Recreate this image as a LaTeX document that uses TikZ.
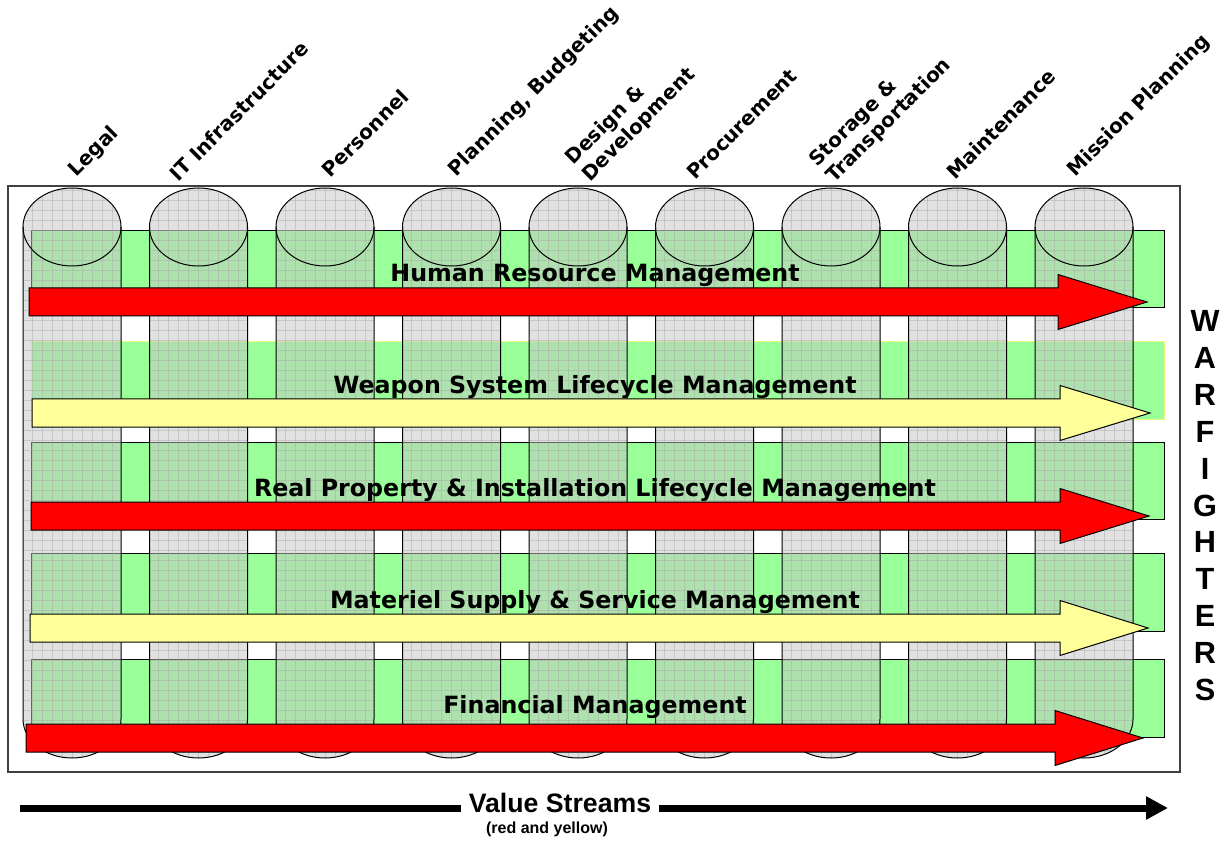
\documentclass[tikz,border=0pt]{standalone}
\usepackage{fontspec}
\usetikzlibrary{arrows.meta}
\newfontfamily\dvs{DejaVu Sans}
\newfontfamily\lib{Liberation Sans}
\definecolor{bandgreen}{HTML}{99FF99}
\definecolor{streamred}{HTML}{FF0000}
\definecolor{streamyellow}{HTML}{FFFF99}
\definecolor{bandedge}{HTML}{E6FF80}
\definecolor{cylgray}{HTML}{C4C4C4}
\definecolor{gridgray}{HTML}{A8A8A8}
\newcommand\streamarrow[5]{%
  \filldraw[stream, fill=#1] (#2,#3-14) -- (#4,#3-14) -- (#4,#3-27.5) -- (#5,#3) -- (#4,#3+27.5) -- (#4,#3+14) -- (#2,#3+14) -- cycle;}
\begin{document}
\begin{tikzpicture}[x=0.75pt,y=-0.75pt,
  band/.style={fill=bandgreen, draw=black, line width=0.75pt},
  stream/.style={draw=black, line width=0.75pt},
  cylline/.style={draw=black, line width=0.75pt},
  gridline/.style={draw=gridgray, opacity=0.45, line width=0.5pt},
  bandlabel/.style={font=\dvs\bfseries\fontsize{17.8}{20}\selectfont, anchor=base, inner sep=0pt},
  collabel/.style={font=\dvs\bfseries\fontsize{15}{17.5}\selectfont, rotate=45, align=left, inner sep=0pt},
  wflabel/.style={font=\lib\bfseries\fontsize{23}{26}\selectfont, anchor=base, inner sep=0pt},
  vslabel/.style={font=\lib\bfseries\fontsize{20}{24}\selectfont, inner sep=0pt},
  vsnote/.style={font=\lib\bfseries\fontsize{12}{14}\selectfont, inner sep=0pt},
  vsline/.style={line width=5.25pt}
]
\useasboundingbox (0,0) rectangle (1224,841);
\fill[white] (0,0) rectangle (1224,841);
\draw[line width=1pt, draw=black!75] (8,186) rectangle (1180,772);

% bands
\path[band] (31,231) rectangle (1164,308);
\path[band, draw=bandedge] (31,342) rectangle (1164,419);
\path[band] (31,442) rectangle (1164,519);
\path[band] (31,553) rectangle (1164,631);
\path[band] (31,659) rectangle (1164,737);

% cylinders
\foreach \i in {0,...,8}{
  \pgfmathsetmacro\cx{72+126.5*\i}
  \begin{scope}
    \path[clip] (\cx-49,227) -- (\cx-49,719) arc[start angle=180,end angle=0,x radius=49,y radius=39] -- (\cx+49,227) arc[start angle=0,end angle=-180,x radius=49,y radius=39] -- cycle;
    \fill[cylgray, opacity=0.5] (\cx-60,180) rectangle (\cx+60,770);
    \foreach \gx in {-50,-40,...,50}{\draw[gridline] (\cx+\gx,186) -- (\cx+\gx,760);}
    \foreach \gy in {190,200,...,760}{\draw[gridline] (\cx-50,\gy) -- (\cx+50,\gy);}
  \end{scope}
  \draw[cylline] (\cx-49,227) -- (\cx-49,719) arc[start angle=180,end angle=0,x radius=49,y radius=39] -- (\cx+49,227);
  \draw[cylline] (\cx,227) ellipse[x radius=49,y radius=39];
}

% value streams
\streamarrow{streamred}{29}{302}{1058}{1147}
\streamarrow{streamyellow}{32}{413}{1060}{1150}
\streamarrow{streamred}{31}{516}{1060}{1149}
\streamarrow{streamyellow}{30}{628}{1060}{1148}
\streamarrow{streamred}{26}{738}{1055}{1143}

% band labels
\node[bandlabel] (hrm) at (595,282) {Human Resource Management};
\node[bandlabel] (wslm) at (595,393) {Weapon System Lifecycle Management};
\node[bandlabel] (rpilm) at (595,496) {Real Property \& Installation Lifecycle Management};
\node[bandlabel] (mssm) at (595,608) {Materiel Supply \& Service Management};
\node[bandlabel] (fm) at (595,713) {Financial Management};

% warfighters
\foreach \L [count=\k from 0] in {W,A,R,F,I,G,H,T,E,R,S}{
  \node[wflabel] (wf\k) at (1205,{332+36.8*\k}) {\L};
}

% column labels
\node[collabel] (legal) at (94,152) {Legal};
\node[collabel] (itinf) at (239,111) {IT Infrastructure};
\node[collabel] (personnel) at (365,133) {Personnel};
\node[collabel] (planning) at (534,92) {Planning, Budgeting};
\node[collabel] (design) at (631,117) {Design \&\\Development};
\node[collabel] (procure) at (742,124) {Procurement};
\node[collabel] (storage) at (881,113) {Storage \&\\Transportation};
\node[collabel] (maint) at (1001,124) {Maintenance};
\node[collabel] (mission) at (1139,106) {Mission Planning};

% bottom value stream arrow
\coordinate (vsa) at (20,808);
\coordinate (vsb) at (1168,808);
\node[vslabel] (vs) at (560,803) {Value Streams};
\coordinate (vsl) at ([xshift=-6pt]vs.west);
\coordinate (vsr) at ([xshift=6pt]vs.east);
\draw[vsline] (vsa) -- (vsl |- vsa);
\draw[vsline, -{Triangle[length=16.5pt,width=16.5pt]}] (vsr |- vsa) -- (vsb);
\node[vsnote] (note) at (547,829) {(red and yellow)};
\end{tikzpicture}
\end{document}
